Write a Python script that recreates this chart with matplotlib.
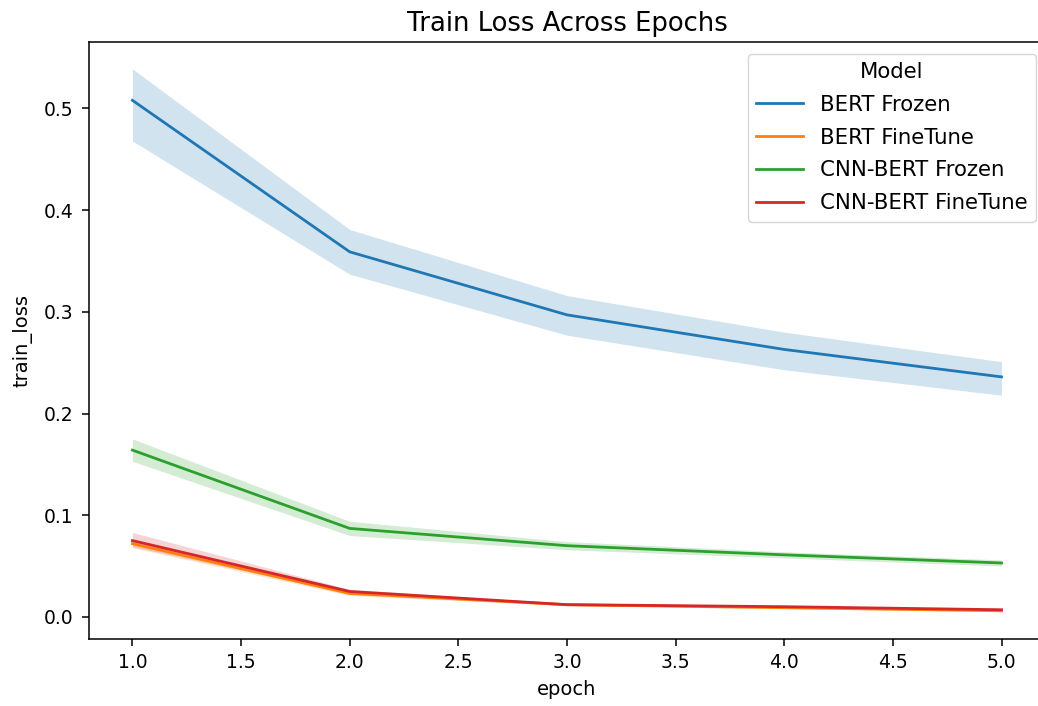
import matplotlib
matplotlib.use("Agg")
import matplotlib.pyplot as plt
import numpy as np

epochs = [1, 2, 3, 4, 5]
models = ["BERT Frozen", "BERT FineTune", "CNN-BERT Frozen", "CNN-BERT FineTune"]
colors = ["#1f77b4", "#ff7f0e", "#2ca02c", "#d62728"]

# mean train loss per epoch, with the lower / upper edge of the band
bert_frozen = [0.508, 0.359, 0.297, 0.263, 0.236]
bert_frozen_lo = [0.468, 0.337, 0.277, 0.243, 0.218]
bert_frozen_hi = [0.539, 0.381, 0.316, 0.280, 0.251]

bert_finetune = [0.072, 0.023, 0.012, 0.009, 0.006]
bert_finetune_lo = [0.068, 0.021, 0.011, 0.008, 0.005]
bert_finetune_hi = [0.076, 0.025, 0.013, 0.010, 0.007]

cnn_frozen = [0.164, 0.087, 0.070, 0.061, 0.053]
cnn_frozen_lo = [0.153, 0.080, 0.066, 0.058, 0.050]
cnn_frozen_hi = [0.175, 0.094, 0.074, 0.064, 0.056]

cnn_finetune = [0.075, 0.025, 0.012, 0.010, 0.007]
cnn_finetune_lo = [0.069, 0.023, 0.011, 0.009, 0.006]
cnn_finetune_hi = [0.083, 0.027, 0.013, 0.011, 0.008]

means = [bert_frozen, bert_finetune, cnn_frozen, cnn_finetune]
lows = [bert_frozen_lo, bert_finetune_lo, cnn_frozen_lo, cnn_finetune_lo]
highs = [bert_frozen_hi, bert_finetune_hi, cnn_frozen_hi, cnn_finetune_hi]

plt.rcParams["font.size"] = 13.5

fig = plt.figure(figsize=(10.38, 7.06), dpi=100)
# the original is cropped on the right, so the axes run past the figure edge
ax = fig.add_axes([0.0857, 0.095, 0.921, 0.846])

for name, c, m, lo, hi in zip(models, colors, means, lows, highs):
    ax.fill_between(epochs, lo, hi, color=c, alpha=0.2, linewidth=0)
    ax.plot(epochs, m, color=c, linewidth=2, label=name)

ax.set_xticks(np.arange(1.0, 5.01, 0.5))
ax.set_yticks(np.arange(0.0, 0.51, 0.1))
ax.tick_params(width=1.1, length=4.7, labelsize=13.5)
ax.tick_params(axis="y", pad=6.5)
ax.tick_params(axis="x", pad=5.5)
for s in ax.spines.values():
    s.set_linewidth(1.1)
ax.set_xlabel("epoch", fontsize=14, labelpad=6)
ax.set_ylabel("train_loss", fontsize=14, labelpad=8)
ax.set_title("Train Loss Across Epochs", fontsize=18.6, pad=8)
ax.legend(title="Model", loc="upper right", bbox_to_anchor=(0.9906, 0.98),
          borderaxespad=0, fontsize=15.3, title_fontsize=15.3,
          labelspacing=0.6, handlelength=2.2)

fig.savefig("out.png", dpi=100)
